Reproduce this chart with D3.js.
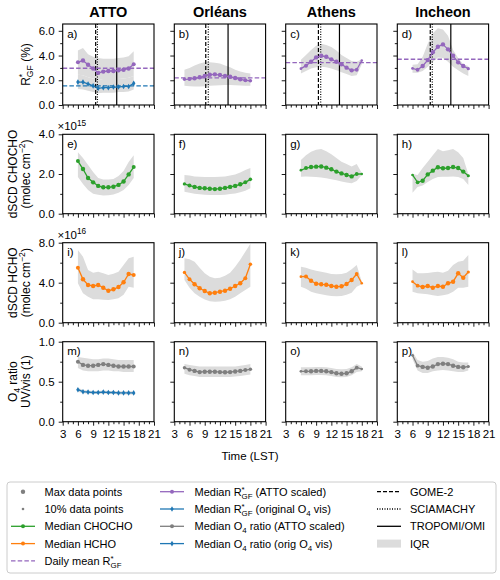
<!DOCTYPE html>
<html>
<head>
<meta charset="utf-8">
<script src="https://cdn.jsdelivr.net/npm/d3@7"></script>
<style>
body { margin: 0; background: #fff; }
text { font-family: "Liberation Sans", Arial, Helvetica, sans-serif; fill: #000; }
</style>
</head>
<body>
<div id="chart"></div>
<script>
// sites et heures (LST)
var sites = ["ATTO", "Orléans", "Athens", "Incheon"]
var hours = [
  [6, 7, 8, 9, 10, 11, 12, 13, 14, 15, 16, 17],
  [5, 6, 7, 8, 9, 10, 11, 12, 13, 14, 15, 16, 17, 18],
  [6, 7, 8, 9, 10, 11, 12, 13, 14, 15, 16, 17, 18],
  [6, 7, 8, 9, 10, 11, 12, 13, 14, 15, 16, 17]
]
// poids du nombre de points (1 = max, 0 = 10%)
var pointWeight = [
  [0.8, 1, 1, 1, 1, 1, 1, 1, 1, 1, 1, 0.8],
  [0.5, 0.8, 1, 1, 1, 1, 1, 1, 1, 1, 1, 1, 0.8, 0.6],
  [0.2, 0.8, 1, 1, 1, 1, 1, 1, 1, 1, 1, 0.7, 0.1],
  [0.2, 0.7, 1, 1, 1, 1, 1, 1, 1, 1, 1, 0.4]
]

// R*GF (%) ATTO scaled
var rgfScaled = [
  [3.45, 3.6, 3.25, 2.95, 2.6, 2.7, 2.75, 2.75, 2.8, 2.85, 2.95, 3.3],
  [2.08, 2.1, 2.16, 2.24, 2.34, 2.45, 2.48, 2.42, 2.34, 2.29, 2.18, 2.08, 2.0, 1.96],
  [2.94, 3.18, 3.5, 3.85, 3.98, 3.9, 3.69, 3.5, 3.29, 3.02, 2.8, 2.85, 3.6],
  [2.96, 2.85, 3.15, 3.63, 4.26, 4.71, 4.9, 4.5, 3.98, 3.45, 3.15, 2.94]
]
var rgfScaledLow = [
  [2.45, 2.4, 2.25, 2.15, 2.05, 2.1, 2.1, 2.1, 2.1, 2.15, 2.2, 2.35],
  [1.55, 1.52, 1.5, 1.5, 1.52, 1.55, 1.58, 1.6, 1.62, 1.62, 1.6, 1.58, 1.55, 1.55],
  [2.55, 2.75, 2.95, 3.05, 3.1, 3.05, 2.95, 2.8, 2.65, 2.5, 2.35, 2.4, 3.3],
  [2.6, 2.6, 2.75, 3.1, 3.5, 3.85, 3.8, 3.5, 3.1, 2.8, 2.55, 2.35]
]
var rgfScaledHigh = [
  [4.4, 4.6, 4.1, 3.9, 3.8, 3.75, 3.75, 3.75, 3.8, 3.85, 3.95, 4.35],
  [2.85, 3.0, 3.2, 3.35, 3.45, 3.45, 3.42, 3.35, 3.2, 3.05, 2.85, 2.7, 2.6, 2.55],
  [3.65, 4.05, 4.45, 4.8, 4.95, 4.85, 4.7, 4.4, 4.05, 3.8, 3.55, 3.5, 3.7],
  [3.25, 3.3, 3.9, 4.95, 5.8, 6.2, 6.1, 5.6, 4.45, 3.8, 3.3, 3.15]
]
// R*GF original O4 vis (ATTO seulement)
var rgfOrig = [1.85, 1.85, 1.7, 1.55, 1.35, 1.4, 1.4, 1.45, 1.45, 1.5, 1.5, 1.75]
var rgfOrigLow = [1.3, 1.25, 1.15, 1.05, 0.95, 1.0, 1.0, 1.0, 1.05, 1.05, 1.1, 1.25]
var rgfOrigHigh = [2.45, 2.4, 2.25, 2.15, 2.05, 2.1, 2.1, 2.1, 2.1, 2.15, 2.2, 2.35]
var dailyMeanScaled = [2.97, 2.19, 3.43, 3.70]
var dailyMeanOrig = [1.54]

// dSCD CHOCHO (x1e15)
var chocho = [
  [2.65, 2.25, 1.8, 1.58, 1.4, 1.33, 1.33, 1.36, 1.45, 1.62, 1.98, 2.35],
  [1.5, 1.42, 1.35, 1.3, 1.28, 1.26, 1.24, 1.26, 1.3, 1.35, 1.4, 1.48, 1.58, 1.73],
  [2.19, 2.3, 2.35, 2.37, 2.38, 2.32, 2.24, 2.12, 2.03, 1.95, 1.88, 2.0, 2.0],
  [1.95, 1.58, 1.66, 1.98, 2.17, 2.34, 2.29, 2.3, 2.35, 2.3, 2.12, 1.91]
]
var chochoLow = [
  [1.85, 1.5, 1.2, 1.0, 0.95, 0.92, 0.93, 0.97, 1.05, 1.2, 1.45, 1.8],
  [1.1, 1.05, 1.0, 0.98, 0.95, 0.94, 0.94, 0.94, 0.96, 0.99, 1.02, 1.08, 1.15, 1.28],
  [1.86, 1.87, 1.86, 1.85, 1.83, 1.78, 1.74, 1.68, 1.62, 1.57, 1.53, 1.65, 1.95],
  [1.05, 1.35, 1.42, 1.6, 1.75, 1.85, 1.86, 1.86, 1.87, 1.85, 1.75, 1.45]
]
var chochoHigh = [
  [3.1, 2.8, 2.45, 2.1, 1.8, 1.72, 1.72, 1.75, 1.9, 2.15, 2.6, 2.95],
  [1.95, 1.92, 1.88, 1.86, 1.85, 1.85, 1.85, 1.86, 1.88, 1.92, 1.98, 2.08, 2.2, 2.3],
  [2.7, 2.95, 3.12, 3.22, 3.26, 3.15, 3.0, 2.8, 2.62, 2.5, 2.38, 2.5, 2.05],
  [2.0, 1.95, 2.3, 2.62, 2.95, 3.26, 3.15, 3.2, 3.26, 3.1, 2.8, 2.0]
]

// dSCD HCHO (x1e16)
var hcho = [
  [5.5, 4.34, 3.77, 3.67, 3.77, 3.5, 3.2, 3.34, 3.57, 4.04, 4.87, 4.77],
  [5.03, 4.34, 3.84, 3.44, 3.17, 2.94, 3.0, 3.1, 3.2, 3.4, 3.67, 3.94, 4.44, 5.85],
  [4.6, 4.63, 4.2, 3.9, 3.84, 3.8, 3.67, 3.6, 3.64, 3.87, 4.27, 4.87, 3.94],
  [4.1, 3.7, 3.57, 3.67, 3.5, 3.67, 3.6, 3.94, 4.1, 4.94, 4.5, 5.07]
]
var hchoLow = [
  [3.94, 2.94, 2.6, 2.35, 2.35, 2.3, 2.27, 2.35, 2.45, 2.8, 3.6, 3.5],
  [4.27, 3.5, 2.94, 2.6, 2.33, 2.15, 2.1, 2.12, 2.2, 2.35, 2.6, 2.95, 3.27, 3.6],
  [3.6, 3.4, 3.1, 2.95, 2.84, 2.75, 2.67, 2.65, 2.67, 2.8, 3.0, 3.6, 3.85],
  [3.1, 2.95, 2.9, 2.84, 2.75, 2.67, 2.75, 2.84, 3.1, 3.5, 3.5, 3.6]
]
var hchoHigh = [
  [7.27, 6.6, 5.27, 5.0, 5.1, 4.95, 4.77, 4.9, 5.1, 5.77, 6.44, 6.6],
  [6.44, 6.35, 6.1, 5.5, 4.94, 4.6, 4.44, 4.5, 4.7, 5.0, 5.6, 6.3, 7.1, 7.9],
  [5.6, 5.5, 5.33, 5.2, 5.1, 5.0, 4.87, 4.85, 4.87, 5.0, 5.35, 5.77, 4.1],
  [5.33, 4.94, 4.95, 4.97, 5.05, 5.1, 5.0, 5.2, 5.77, 6.1, 6.2, 6.77]
]

// O4 ratio UV/vis ATTO scaled
var o4Scaled = [
  [0.75, 0.71, 0.70, 0.70, 0.71, 0.72, 0.71, 0.70, 0.69, 0.69, 0.69, 0.69],
  [0.675, 0.65, 0.635, 0.62, 0.625, 0.625, 0.625, 0.62, 0.618, 0.62, 0.628, 0.635, 0.645, 0.655],
  [0.63, 0.63, 0.63, 0.635, 0.635, 0.63, 0.62, 0.605, 0.60, 0.605, 0.63, 0.675, 0.66],
  [0.83, 0.70, 0.685, 0.675, 0.69, 0.72, 0.725, 0.72, 0.70, 0.685, 0.68, 0.69]
]
var o4ScaledLow = [
  [0.67, 0.64, 0.63, 0.63, 0.63, 0.64, 0.64, 0.63, 0.63, 0.62, 0.62, 0.62],
  [0.6, 0.58, 0.57, 0.56, 0.56, 0.56, 0.56, 0.56, 0.56, 0.56, 0.565, 0.57, 0.58, 0.59],
  [0.58, 0.58, 0.58, 0.585, 0.585, 0.58, 0.57, 0.56, 0.555, 0.56, 0.58, 0.62, 0.63],
  [0.78, 0.64, 0.61, 0.61, 0.63, 0.64, 0.645, 0.64, 0.63, 0.62, 0.62, 0.64]
]
var o4ScaledHigh = [
  [0.81, 0.80, 0.79, 0.78, 0.78, 0.79, 0.79, 0.78, 0.77, 0.77, 0.77, 0.77],
  [0.72, 0.71, 0.70, 0.69, 0.69, 0.69, 0.69, 0.69, 0.69, 0.69, 0.69, 0.70, 0.71, 0.72],
  [0.68, 0.68, 0.68, 0.685, 0.685, 0.68, 0.67, 0.66, 0.655, 0.66, 0.68, 0.72, 0.69],
  [0.87, 0.77, 0.75, 0.76, 0.79, 0.81, 0.81, 0.80, 0.78, 0.75, 0.74, 0.74]
]
// O4 ratio original O4 vis (ATTO seulement)
var o4Orig = [0.40, 0.375, 0.37, 0.365, 0.365, 0.37, 0.365, 0.365, 0.36, 0.36, 0.36, 0.36]
var o4OrigLow = [0.375, 0.355, 0.35, 0.345, 0.345, 0.35, 0.345, 0.345, 0.34, 0.34, 0.34, 0.34]
var o4OrigHigh = [0.425, 0.395, 0.39, 0.385, 0.385, 0.39, 0.385, 0.385, 0.38, 0.38, 0.38, 0.38]

// heures de passage des satellites (ligne du haut)
var gome2 = [9.5, 9.2, 9.45, 9.5]
var sciamachy = [9.85, 9.7, 9.9, 9.9]
var tropomi = [13.65, 13.6, 13.6, 13.55]

var xTicksMajor = [3, 6, 9, 12, 15, 18, 21]
var xTicksMinor = [4, 5, 7, 8, 10, 11, 13, 14, 16, 17, 19, 20]
var panelLetters = "abcdefghijklmnop".split("")

// dimensions
var width = 500
var height = 580
var lefts = [62.7, 174.3, 285.7, 397.3]
var pw = 91.3
var tops = [24, 134.3, 242.7, 341.7]
var phs = [81, 79.4, 80, 80]

var purple = "#9467bd", blue = "#1f77b4", green = "#2ca02c", orange = "#ff7f0e", grey = "#7f7f7f", iqr = "#dcdcdc"

var svg = d3.select("#chart")
  .append("svg")
    .attr("width", width)
    .attr("height", height)

// texte avec exposants / indices
function rich(el, parts, fs) {
  var shift = 0
  parts.forEach(function(p) {
    var mode = p[1] || ""
    var target = mode == "sup" ? -0.38 * fs : mode == "sub" ? 0.28 * fs : 0
    var ts = el.append("tspan").text(p[0])
      .attr("dy", target - shift)
      .style("font-size", (mode ? 0.72 * fs : fs) + "px")
    if (p[2]) ts.attr("dx", p[2])
    shift = target
  })
  return el
}
function rgfParts(fs, rest) {
  return [["R"], ["*", "sup"], ["GF", "sub", -0.28 * fs], [rest || ""]]
}

var rows = [
  { dom: [0, 6.55], major: [0, 2, 4, 6], minor: [1, 3, 5] },
  { dom: [0, 4], major: [0, 2, 4], minor: [1, 3] },
  { dom: [0, 8], major: [0, 4, 8], minor: [2, 6] },
  { dom: [0, 1], major: [0, 0.5, 1], minor: [0.25, 0.75] }
]

var diamond = "M0,-2.8L1.7,0L0,2.8L-1.7,0Z"

function drawSeries(g, x, y, hrs, vals, lo, hi, color, weights, marker) {
  var pts = hrs.map(function(h, i) { return { h: h, v: vals[i], lo: lo[i], hi: hi[i], w: weights[i] } })
  g.append("path")
    .datum(pts)
    .attr("fill", iqr)
    .attr("d", d3.area().x(function(d) { return x(d.h) }).y0(function(d) { return y(d.lo) }).y1(function(d) { return y(d.hi) }))
  return function() {
    g.append("path")
      .datum(pts)
      .attr("fill", "none")
      .attr("stroke", color)
      .attr("stroke-width", 1.3)
      .attr("d", d3.line().x(function(d) { return x(d.h) }).y(function(d) { return y(d.v) }))
    if (marker == "diamond") {
      g.selectAll(null).data(pts).enter().append("path")
        .attr("d", diamond)
        .attr("transform", function(d) { return "translate(" + x(d.h) + "," + y(d.v) + ")" })
        .attr("fill", color)
    } else {
      g.selectAll(null).data(pts).enter().append("circle")
        .attr("cx", function(d) { return x(d.h) })
        .attr("cy", function(d) { return y(d.v) })
        .attr("r", function(d) { return 1.15 + 1.05 * d.w })
        .attr("fill", color)
    }
  }
}

var rowData = [
  [rgfScaled, rgfScaledLow, rgfScaledHigh, purple],
  [chocho, chochoLow, chochoHigh, green],
  [hcho, hchoLow, hchoHigh, orange],
  [o4Scaled, o4ScaledLow, o4ScaledHigh, grey]
]

rows.forEach(function(row, r) {
  var y = d3.scaleLinear().domain(row.dom).range([tops[r] + phs[r], tops[r]])
  sites.forEach(function(site, s) {
    var x = d3.scaleLinear().domain([3, 21]).range([lefts[s], lefts[s] + pw])
    var cid = "clip" + r + "_" + s
    svg.append("clipPath").attr("id", cid)
      .append("rect").attr("x", lefts[s]).attr("y", tops[r]).attr("width", pw).attr("height", phs[r])
    var g = svg.append("g").attr("clip-path", "url(#" + cid + ")")

    var draws = []
    var rd = rowData[r]
    draws.push(drawSeries(g, x, y, hours[s], rd[0][s], rd[1][s], rd[2][s], rd[3], pointWeight[s], "circle"))
    if (s == 0 && r == 0) draws.push(drawSeries(g, x, y, hours[s], rgfOrig, rgfOrigLow, rgfOrigHigh, blue, pointWeight[s], "diamond"))
    if (s == 0 && r == 3) draws.push(drawSeries(g, x, y, hours[s], o4Orig, o4OrigLow, o4OrigHigh, blue, pointWeight[s], "diamond"))

    if (r == 0) {
      // passages satellites
      [[gome2[s], "4,2"], [sciamachy[s], "1,1.5"], [tropomi[s], null]].forEach(function(v) {
        g.append("line")
          .attr("x1", x(v[0])).attr("x2", x(v[0]))
          .attr("y1", tops[r]).attr("y2", tops[r] + phs[r])
          .attr("stroke", "#000").attr("stroke-width", 1.2)
          .attr("stroke-dasharray", v[1])
      })
      // moyennes journalières
      g.append("line")
        .attr("x1", lefts[s]).attr("x2", lefts[s] + pw)
        .attr("y1", y(dailyMeanScaled[s])).attr("y2", y(dailyMeanScaled[s]))
        .attr("stroke", purple).attr("stroke-width", 1.3).attr("stroke-dasharray", "4.5,2.2")
      if (s == 0) {
        g.append("line")
          .attr("x1", lefts[s]).attr("x2", lefts[s] + pw)
          .attr("y1", y(dailyMeanOrig[0])).attr("y2", y(dailyMeanOrig[0]))
          .attr("stroke", blue).attr("stroke-width", 1.3).attr("stroke-dasharray", "4.5,2.2")
      }
    }
    draws.forEach(function(f) { f() })

    // axes
    var fmt = d3.format(".1f")
    var ay = svg.append("g").attr("transform", "translate(" + lefts[s] + ",0)")
      .call(d3.axisLeft(y).tickValues(row.major).tickSize(4).tickPadding(4).tickFormat(s == 0 ? fmt : ""))
    svg.append("g").attr("transform", "translate(" + lefts[s] + ",0)")
      .call(d3.axisLeft(y).tickValues(row.minor).tickSize(2.5).tickFormat(""))
    var bottom = tops[r] + phs[r]
    svg.append("g").attr("transform", "translate(0," + bottom + ")")
      .call(d3.axisBottom(x).tickValues(xTicksMajor).tickSize(4).tickPadding(4).tickFormat(r == 3 ? d3.format("d") : ""))
    svg.append("g").attr("transform", "translate(0," + bottom + ")")
      .call(d3.axisBottom(x).tickValues(xTicksMinor).tickSize(2.5).tickFormat(""))

    // cadre
    svg.append("rect")
      .attr("x", lefts[s]).attr("y", tops[r]).attr("width", pw).attr("height", phs[r])
      .attr("fill", "none").attr("stroke", "#000").attr("stroke-width", 1.1)

    svg.append("text")
      .attr("x", lefts[s] + 4.5).attr("y", tops[r] + 13.5)
      .style("font-size", "11.5px")
      .text(panelLetters[r * 4 + s] + ")")

    if (r == 0) {
      svg.append("text")
        .attr("x", lefts[s] + pw / 2).attr("y", 17.3)
        .attr("text-anchor", "middle")
        .style("font-size", "14.5px").style("font-weight", "bold")
        .text(site)
    }
  })
})

svg.selectAll(".domain").remove()
svg.selectAll(".tick line").attr("stroke", "#000").attr("stroke-width", 0.9)
svg.selectAll(".tick text").style("font-size", "11.5px").style("font-family", "'Liberation Sans', Arial, sans-serif").attr("fill", "#000")

// étiquettes des axes y
function ylab(cy, lines) {
  lines.forEach(function(l) {
    var t = svg.append("text")
      .attr("transform", "translate(" + l.x + "," + cy + ") rotate(-90)")
      .attr("text-anchor", "middle")
    rich(t, l.parts, 12)
  })
}
ylab(tops[0] + phs[0] / 2, [{ x: 29.5, parts: rgfParts(12, " (%)") }])
ylab(tops[1] + phs[1] / 2, [{ x: 17, parts: [["dSCD CHOCHO"]] }, { x: 30, parts: [["(molec cm"], ["−2", "sup"], [")"]] }])
ylab(tops[2] + phs[2] / 2, [{ x: 17, parts: [["dSCD HCHO"]] }, { x: 30, parts: [["(molec cm"], ["−2", "sup"], [")"]] }])
ylab(tops[3] + phs[3] / 2, [{ x: 17, parts: [["O"], ["4", "sub"], [" ratio"]] }, { x: 30, parts: [["UV/vis (1)"]] }])

// facteurs d'échelle
rich(svg.append("text").attr("x", 57.5).attr("y", 130), [["×10"], ["15", "sup"]], 11.5)
rich(svg.append("text").attr("x", 57.5).attr("y", 238.5), [["×10"], ["16", "sup"]], 11.5)

svg.append("text")
  .attr("x", 250).attr("y", 459.5)
  .attr("text-anchor", "middle")
  .style("font-size", "11.5px")
  .text("Time (LST)")

// légende
var lg = svg.append("g")
lg.append("rect")
  .attr("x", 7).attr("y", 482).attr("width", 489).attr("height", 91).attr("rx", 3)
  .attr("fill", "#fff").attr("stroke", "#cccccc").attr("stroke-width", 1)

var legendItems = [
  { col: 0, row: 0, kind: "dot", r: 2.2, color: grey, parts: [["Max data points"]] },
  { col: 0, row: 1, kind: "dot", r: 1.3, color: grey, parts: [["10% data points"]] },
  { col: 0, row: 2, kind: "linedot", color: green, parts: [["Median CHOCHO"]] },
  { col: 0, row: 3, kind: "linedot", color: orange, parts: [["Median HCHO"]] },
  { col: 0, row: 4, kind: "dash", color: purple, dash: "4.5,2.2", parts: [["Daily mean "]].concat(rgfParts(11)) },
  { col: 1, row: 0, kind: "linedot", color: purple, parts: [["Median "]].concat(rgfParts(11, " (ATTO scaled)")) },
  { col: 1, row: 1, kind: "linediamond", color: blue, parts: [["Median "]].concat(rgfParts(11, " (original O")).concat([["4", "sub"], [" vis)"]]) },
  { col: 1, row: 2, kind: "linedot", color: grey, parts: [["Median O"], ["4", "sub"], [" ratio (ATTO scaled)"]] },
  { col: 1, row: 3, kind: "linediamond", color: blue, parts: [["Median O"], ["4", "sub"], [" ratio (orig O"], ["4", "sub"], [" vis)"]] },
  { col: 2, row: 0, kind: "dash", color: "#000", dash: "4,2", parts: [["GOME-2"]] },
  { col: 2, row: 1, kind: "dash", color: "#000", dash: "1,1.5", parts: [["SCIAMACHY"]] },
  { col: 2, row: 2, kind: "dash", color: "#000", dash: null, parts: [["TROPOMI/OMI"]] },
  { col: 2, row: 3, kind: "patch", color: iqr, parts: [["IQR"]] }
]
var handleX = [11, 160, 377]
var textX = [44.5, 194.5, 410]

legendItems.forEach(function(it) {
  var x0 = handleX[it.col], x1 = x0 + 24, cy = 491.7 + it.row * 17.3
  if (it.kind == "dot") {
    lg.append("circle").attr("cx", (x0 + x1) / 2).attr("cy", cy).attr("r", it.r).attr("fill", it.color)
  } else if (it.kind == "patch") {
    lg.append("rect").attr("x", x0).attr("y", cy - 4).attr("width", 24).attr("height", 8).attr("fill", it.color)
  } else {
    lg.append("line").attr("x1", x0).attr("x2", x1).attr("y1", cy).attr("y2", cy)
      .attr("stroke", it.color).attr("stroke-width", 1.3).attr("stroke-dasharray", it.dash || null)
    if (it.kind == "linedot")
      lg.append("circle").attr("cx", (x0 + x1) / 2).attr("cy", cy).attr("r", 2).attr("fill", it.color)
    if (it.kind == "linediamond")
      lg.append("path").attr("d", diamond).attr("transform", "translate(" + (x0 + x1) / 2 + "," + cy + ")").attr("fill", it.color)
  }
  rich(lg.append("text").attr("x", textX[it.col]).attr("y", cy + 4), it.parts, 11)
})
</script>
</body>
</html>
